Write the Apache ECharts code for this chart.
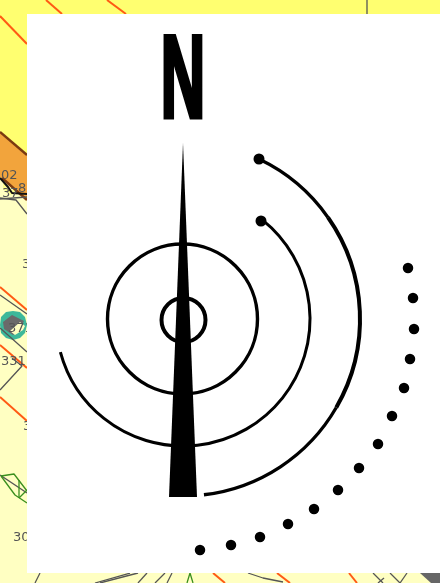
<!DOCTYPE html>
<html><head><meta charset="utf-8">
<style>html,body{margin:0;padding:0;background:#fff}#c{width:440px;height:583px;filter:blur(0.35px)}</style>
<script src="https://cdn.jsdelivr.net/npm/echarts@6/dist/echarts.min.js"></script>
</head><body><div id="c"></div>
<script>
// map backdrop areas
const paleArea=[[0,0],[440,0],[440,583],[0,583]];
const yellowArea=[[0,0],[440,0],[440,14],[27,14],[27,155],[0,132]];
const orangeArea=[[0,132],[27,155],[27,200],[0,177]];
const paleSpot=[[3,183],[12,190],[18,189],[11,195],[3,189]];
const whitePanel=[[27,14],[440,14],[440,573],[27,573]];
const needle=[[183,143],[197,497],[169,497]];
const tealBadge=[[13,311],[20,312],[25,317],[27,325],[25,333],[20,338],[13,340],[6,338],[1,333],[0,325],[1,317],[6,312]];
const greyBadge=[[12,315],[24,321],[20,329],[13,335],[4,329],[3,322]];
const paleBadge=[[20,322],[25,326],[23,330],[15,335],[10,331]];
const greyBlock=[[420,573],[440,573],[440,583],[431,583]];
// map lines
const orangeLines=[
 [[0,16],[27,44]],[[46,0],[62,14]],[[107,0],[126,14]],
 [[0,287],[27,310]],[[0,345],[27,368]],[[0,397],[27,421]],
 [[213,573],[225,583]],[[277,573],[290,583]],[[349,573],[357,583]]];
const brownLines=[[[0,132],[27,155]],[[2,178],[27,200]]];
const blackLines=[[[0,178],[8,187],[12,193],[27,194]]];
const greyLines=[
 [[367,0],[367,14]],[[0,295],[27,314]],[[0,328],[27,352]],[[0,390],[22,366],[12,358]],
 [[0,198],[16,200],[27,214]],[[0,199],[27,197]],
 [[0,475],[27,493]],[[40,573],[35,583]],[[95,583],[130,573]],[[100,583],[138,573]],
 [[138,583],[147,573]],[[155,583],[165,573]],[[167,583],[172,573]],
 [[248,573],[263,578],[283,582]],[[373,573],[383,583]],[[390,573],[400,583]],
 [[407,573],[400,583]],[[378,583],[384,578]]];
const greenLines=[
 [[1,476],[14,474],[27,491]],[[1,476],[15,495],[27,503]],
 [[19,480],[19,498]],[[19,498],[27,490]],[[187,583],[190,573],[193,583]]];
// map number labels
const mapLabels=[
 ['02',1,176],['8',18,189],['37',2,194],['3',22,265],['371',8,329],
 ['331',1,362],['3',23,427],['30',13,538]];
// compass
const northLabel=['N',183,85];
const rings=[[183.5,320,22,-180,180,4],[182.5,319,75,-180,180,3.4]];
const arcs=[[183,319,127,-51.5,164.9,3],
 [183,319,177,-64.6,-35,3.3],[183,319,177,-35,30,4],[183,319,177,30,83.2,3.3]];
const arcEndDots=[[259,159],[261,221]];
const trailDots=[[408,268],[413,298],[414,329],[410,359],[404,388],[392,416],[378,444],[359,468],[338,490],[314,509],[288,524],[260,537],[231,545],[200,550]];

function area(pts,color,z){return{type:'custom',coordinateSystem:'cartesian2d',silent:true,z,clip:false,data:pts,
 encode:{x:0,y:1},
 renderItem(p,api){if(p.dataIndex!==0)return null;
  return{type:'polygon',shape:{points:pts.map(q=>api.coord(q))},style:{fill:color}}}}}
function lines(list,color,w,z){return list.map(d=>({type:'line',data:d,symbol:'none',silent:true,z,animation:false,
 lineStyle:{color,width:w}}))}
function ringSeries(list,z){return{type:'custom',coordinateSystem:'cartesian2d',silent:true,z,data:list,
 encode:{x:0,y:1},
 renderItem(p,api){const c=api.coord([api.value(0),api.value(1)]);
  return{type:'arc',shape:{cx:c[0],cy:c[1],r:api.size([api.value(2),0])[0],
   startAngle:api.value(3)*Math.PI/180,endAngle:api.value(4)*Math.PI/180,clockwise:true},
   style:{fill:null,stroke:'#000',lineWidth:api.value(5)}}}}}
function textSeries(list,z,fill,font,weight,size,sx){return{type:'custom',coordinateSystem:'cartesian2d',silent:true,z,data:list,
 encode:{x:1,y:2},
 renderItem(p,api){const c=api.coord([api.value(1),api.value(2)]);const s=list[p.dataIndex];
  return{type:'text',x:c[0],y:c[1],scaleX:sx,style:{text:s[0],fill,fontFamily:font,fontWeight:weight,fontSize:size,
   align:sx===1?'left':'center',verticalAlign:'middle',stroke:sx===1?null:'#000',lineWidth:sx===1?0:5}}}}}

const chart=echarts.init(document.getElementById('c'),null,{renderer:'canvas'});
chart.setOption({animation:false,backgroundColor:'#fff',
 grid:{left:0,right:0,top:0,bottom:0},
 xAxis:{type:'value',min:0,max:440,show:false},
 yAxis:{type:'value',min:0,max:583,inverse:true,show:false},
 series:[
  area(paleArea,'#FFFFC2',1),area(yellowArea,'#FFFF70',2),area(orangeArea,'#F2A43C',2),area(paleSpot,'#FFFF90',3),
  area(tealBadge,'#3DB89A',3),area(greyBadge,'#6A6A6A',4),area(paleBadge,'#FFFFC2',4),area(greyBlock,'#666666',3),
  ...lines(orangeLines,'#FF5A14',2,3),...lines(brownLines,'#7A3A10',2.4,3),...lines(greyLines,'#555555',1.3,3),
  ...lines(blackLines,'#111111',2,4),...lines(greenLines,'#3A8F1F',1.3,3),
  textSeries(mapLabels,5,'#555555','DejaVu Sans','normal',13,1),
  area(whitePanel,'#FFFFFF',6),
  ringSeries(rings,7),ringSeries(arcs,7),
  {type:'scatter',data:arcEndDots,symbolSize:11,itemStyle:{color:'#000',opacity:1},silent:true,z:7},
  {type:'scatter',data:trailDots,symbolSize:10.5,itemStyle:{color:'#000',opacity:1},silent:true,z:7},
  area(needle,'#000000',8),
  textSeries([northLabel],8,'#000','Liberation Sans','bold',116,0.53)
 ]});
</script></body></html>
